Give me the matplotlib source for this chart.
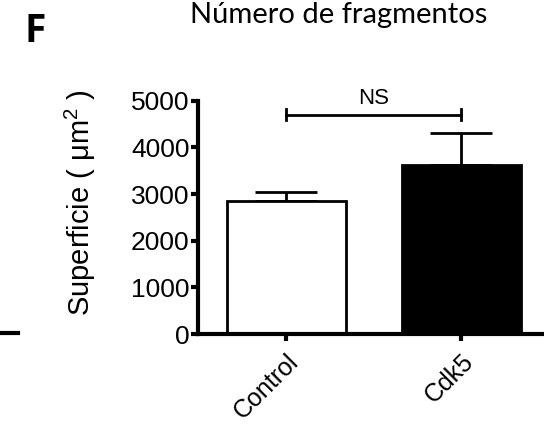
import matplotlib.pyplot as plt
from matplotlib.lines import Line2D

plt.rcParams["font.family"] = ["Liberation Sans", "DejaVu Sans"]
plt.rcParams["mathtext.fontset"] = "custom"
plt.rcParams["mathtext.rm"] = "Liberation Sans"

groups = ["Control", "Cdk5"]
means = [2850, 3620]
errors = [190, 695]
fills = ["white", "black"]
yticks = [0, 1000, 2000, 3000, 4000, 5000]
bracket_y = 4700

fig = plt.figure(figsize=(5.44, 4.28), dpi=100)
ax = fig.add_axes([198 / 544, 94 / 428, 346 / 544, 233.3 / 428])

x = list(range(len(groups)))
ax.bar(x, means, width=0.68, color=fills, edgecolor="black", linewidth=2.0, zorder=2)
ax.errorbar(x, means, yerr=[[0, 0], errors], fmt="none", ecolor="black",
            elinewidth=2.0, capsize=22, capthick=2.0, zorder=1)

# significance bracket
ax.plot([0, 1], [bracket_y, bracket_y], color="black", lw=2.0, clip_on=False)
for xi in x:
    ax.plot([xi, xi], [bracket_y - 120, bracket_y + 120], color="black", lw=2.0, clip_on=False)
ax.text(0.5, bracket_y + 230, "NS", ha="center", va="baseline", fontsize=16, clip_on=False)

ax.set_xlim(-0.503, 1.474)
ax.set_ylim(0, 5000)
ax.set_yticks(yticks)
ax.set_yticklabels([str(v) for v in yticks], fontsize=19)
ax.set_xticks(x)
ax.set_xticklabels(groups, fontsize=18, rotation=45, ha="right", rotation_mode="anchor")

for side in ["top", "right"]:
    ax.spines[side].set_visible(False)
for side in ["left", "bottom"]:
    ax.spines[side].set_linewidth(3)
ax.tick_params(axis="both", width=3, length=5, pad=1)
ax.tick_params(axis="x", pad=6)

ax.set_ylabel("Superficie ( μm$^{2}$ )", fontsize=21)
ax.yaxis.set_label_coords(-0.29, 0.565)

fig.text(339 / 544, 1 - 23 / 428, "Número de fragmentos", ha="center", va="baseline",
         fontsize=21, family="Lato")
fig.text(24 / 544, 1 - 42 / 428, "F", ha="left", va="baseline", fontsize=28,
         fontweight="bold", family="Open Sans")
fig.add_artist(Line2D([0, 18 / 544], [1 - 333 / 428, 1 - 333 / 428], color="black", lw=3))

fig.savefig("out.png", dpi=100)
